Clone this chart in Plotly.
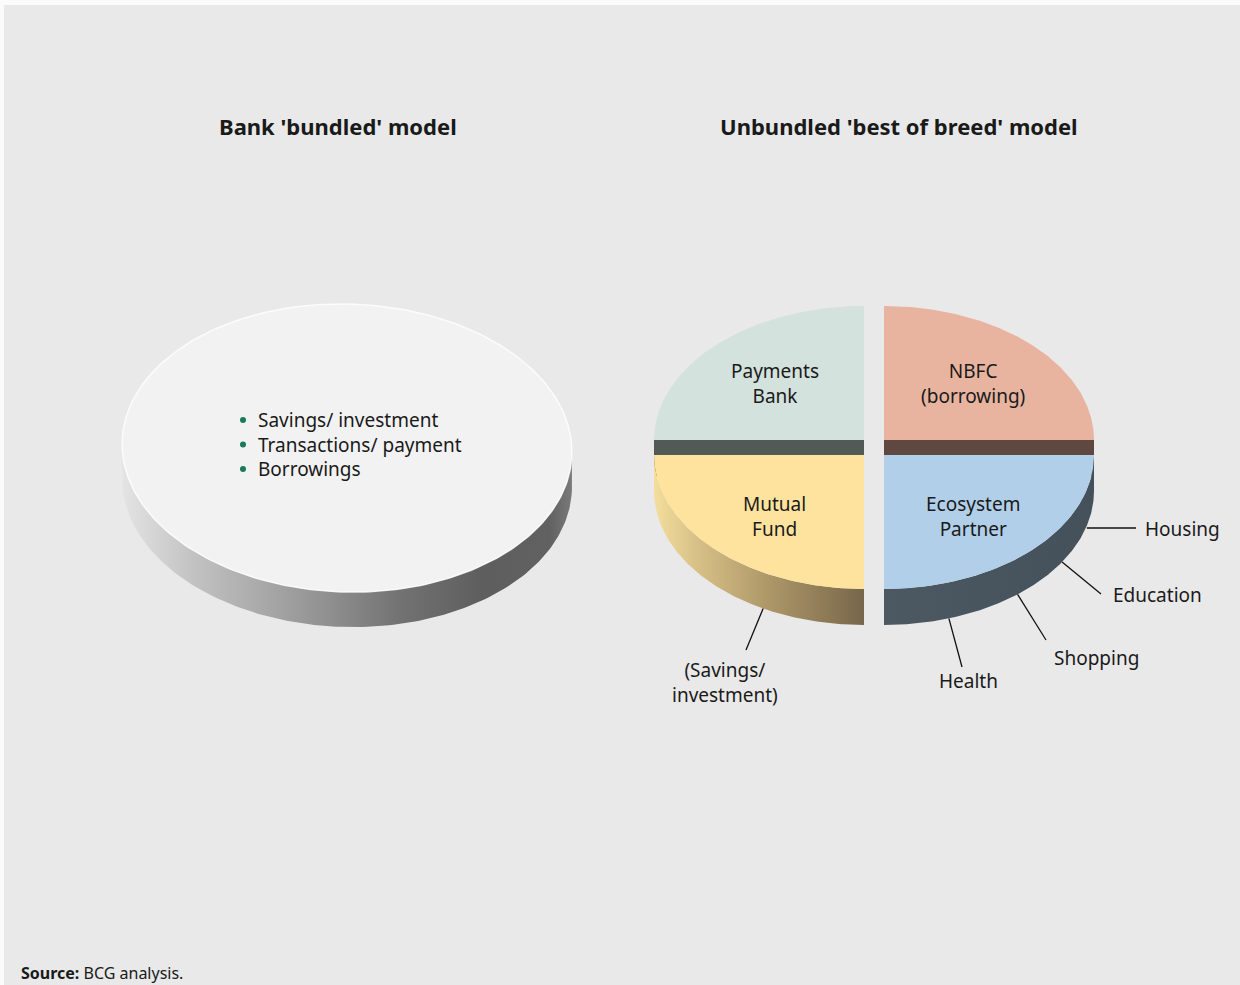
import numpy as np
import plotly.graph_objects as go

# ---------------- data ----------------
left_title = "Bank 'bundled' model"
right_title = "Unbundled 'best of breed' model"
bundled_services = ["Savings/ investment", "Transactions/ payment", "Borrowings"]

slice_labels = ["NBFC<br>(borrowing)", "Ecosystem<br>Partner", "Mutual<br>Fund", "Payments<br>Bank"]
slice_values = [25, 25, 25, 25]
slice_face_colors = ["#e8b4a0", "#b1cfe9", "#fee39e", "#d3e2dc"]
slice_cut_colors = ["#5e4840", "#46525c", "#7d6b48", "#525a58"]

ecosystem_callouts = ["Housing", "Education", "Shopping", "Health"]
fund_callout = "(Savings/<br>investment)"
source_label = "Source:"
source_text = "BCG analysis."

# ---------------- layout constants ----------------
W, H = 1240, 985
FONT = "Noto Sans"
TXT = "#1a1a1a"

fig = go.Figure()


def arc(cx, cy, rx, ry, t0, t1, n=160, rot=0.0, dy=0.0):
    t = np.linspace(t0, t1, n)
    x = rx * np.cos(t)
    y = ry * np.sin(t)
    xr = cx + x * np.cos(rot) - y * np.sin(rot)
    yr = cy + x * np.sin(rot) + y * np.cos(rot) + dy
    return xr, yr


def poly(x, y, color=None, gradient=None, line=None):
    kw = dict(x=list(x), y=list(y), mode="lines", fill="toself",
              hoverinfo="skip", showlegend=False)
    if line:
        kw["line"] = line
    else:
        kw["line"] = dict(width=0, color="rgba(0,0,0,0)")
    if gradient:
        kw["fillgradient"] = dict(type="horizontal", colorscale=gradient)
    else:
        kw["fillcolor"] = color
    fig.add_trace(go.Scatter(**kw))


# ---------------- left "bundled" disc ----------------
Lcx, Lcy, Lrx, Lry, Lh, Lrot = 347, 448, 225, 144, 35, np.radians(1.7)
ax1, ay1 = arc(Lcx, Lcy, Lrx, Lry, 0, np.pi, rot=Lrot)
bx1, by1 = arc(Lcx, Lcy, Lrx, Lry, np.pi, 0, rot=Lrot, dy=Lh)
poly(np.r_[ax1, bx1], np.r_[ay1, by1],
     gradient=[[0, "#e4e4e4"], [0.15, "#c4c4c4"], [0.4, "#9a9a9a"],
               [0.62, "#727272"], [0.8, "#5e5e5e"], [0.95, "#616161"], [1, "#7a7a7a"]])
fx, fy = arc(Lcx, Lcy, Lrx, Lry, 0, 2 * np.pi, n=300, rot=Lrot)
poly(fx, fy, color="#f2f2f2", line=dict(width=1.5, color="rgba(255,255,255,0.8)"))

# bullets
bullet_y0, bullet_dy = 420, 24.5
for i, s in enumerate(bundled_services):
    yy = bullet_y0 + i * bullet_dy
    fig.add_trace(go.Scatter(x=[243], y=[yy], mode="markers",
                             marker=dict(size=6, color="#197a56"),
                             hoverinfo="skip", showlegend=False))
    fig.add_annotation(x=256, y=yy, text=s, showarrow=False, xanchor="left",
                       yanchor="middle", font=dict(family=FONT, size=19, color=TXT))

# ---------------- right exploded pie ----------------
Pcx, Pcy, Prx, Pry, Ph = 874, 447.5, 210, 134, 36
EXX, EXY = 14.14, 10.6
total = float(sum(slice_values))
start = -np.pi / 2
slices = []
for lab, v, fc, cc in zip(slice_labels, slice_values, slice_face_colors, slice_cut_colors):
    sweep = 2 * np.pi * v / total
    t0, t1 = start, start + sweep
    mid = (t0 + t1) / 2
    cx = Pcx + EXX * np.cos(mid)
    cy = Pcy + EXY * np.sin(mid)
    slices.append(dict(lab=lab, t0=t0, t1=t1, mid=mid, cx=cx, cy=cy, fc=fc, cc=cc))
    start = t1

side_grads = {
    "#fee39e": [[0, "#f3de9c"], [0.2, "#d8c187"], [0.55, "#ad9768"], [1, "#77664a"]],
    "#b1cfe9": [[0, "#4c5862"], [1, "#44505a"]],
}

# back slices (upper half) first, then front slices
order = sorted(slices, key=lambda s: np.sin(s["mid"]))
for s in order:
    cx, cy = s["cx"], s["cy"]
    front = np.sin(s["mid"]) > 0
    if not front:
        # front-facing cut faces
        for a in (s["t0"], s["t1"]):
            ex, ey = cx + Prx * np.cos(a), cy + Pry * np.sin(a)
            if abs(ey - cy) < 1e-6 and abs(ex - cx) > 1:
                poly([cx, ex, ex, cx], [cy, ey, ey + Ph, cy + Ph], color=s["cc"])
    else:
        # visible outer wall
        lo = max(s["t0"] % (2 * np.pi), 0)
        hi = min(lo + (s["t1"] - s["t0"]), np.pi)
        ox, oy = arc(cx, cy, Prx, Pry, lo, hi)
        ix, iy = arc(cx, cy, Prx, Pry, hi, lo, dy=Ph)
        poly(np.r_[ox, ix], np.r_[oy, iy], gradient=side_grads.get(s["fc"]),
             color=s["cc"])
    ax_, ay_ = arc(cx, cy, Prx, Pry, s["t0"], s["t1"])
    poly(np.r_[cx, ax_, cx], np.r_[cy, ay_, cy], color=s["fc"])
    lx = cx + 0.6 * Prx * np.cos(s["mid"])
    ly = cy + 0.6 * Pry * np.sin(s["mid"]) + (5 if front else 0)
    fig.add_annotation(x=lx, y=ly, text=s["lab"], showarrow=False,
                       font=dict(family=FONT, size=19, color=TXT))

# callouts
eco = slices[1]
fund = slices[2]
call_specs = [
    # (slice, angle deg, end point, text pos, anchor)
    (eco, 15, (1136, 528), (1143, 529), "left"),
    (eco, 32, (1101, 594), (1111, 595), "left"),
    (eco, 50.5, (1046, 640), (1096, 658), "center"),
    (eco, 72, (962, 667), (968, 681), "center"),
    (fund, 118.7, (746, 650), (725, 682), "center"),
]
call_texts = ecosystem_callouts + [fund_callout]
for (s, ang, end, tpos, anc), txt in zip(call_specs, call_texts):
    a = np.radians(ang)
    sx = s["cx"] + Prx * np.cos(a)
    sy = s["cy"] + Pry * np.sin(a) + Ph
    if txt == "Housing":
        sy = end[1]
    fig.add_trace(go.Scatter(x=[sx, end[0]], y=[sy, end[1]], mode="lines",
                             line=dict(color="#111111", width=1.3),
                             hoverinfo="skip", showlegend=False))
    fig.add_annotation(x=tpos[0], y=tpos[1], text=txt, showarrow=False,
                       xanchor=anc, yanchor="middle",
                       font=dict(family=FONT, size=19, color=TXT))

# titles
fig.add_annotation(x=338, y=126, text="<b>" + left_title + "</b>", showarrow=False,
                   font=dict(family=FONT, size=22, color=TXT))
fig.add_annotation(x=899, y=126, text="<b>" + right_title + "</b>", showarrow=False,
                   font=dict(family=FONT, size=22, color=TXT))

# source
fig.add_annotation(x=19, y=973, text="<b>" + source_label + "</b> " + source_text,
                   showarrow=False, xanchor="left", yanchor="middle",
                   font=dict(family=FONT, size=16, color=TXT))

fig.add_shape(type="rect", x0=4, x1=W, y0=5, y1=H, fillcolor="#e9e9e9",
              line=dict(width=0), layer="below")

fig.update_layout(
    width=W, height=H, autosize=False,
    margin=dict(l=0, r=0, t=0, b=0, pad=0),
    paper_bgcolor="#fbfbfb", plot_bgcolor="rgba(0,0,0,0)",
    xaxis=dict(range=[0, W], visible=False, fixedrange=True),
    yaxis=dict(range=[H, 0], visible=False, fixedrange=True),
    showlegend=False,
)

fig.write_html("out.html")
